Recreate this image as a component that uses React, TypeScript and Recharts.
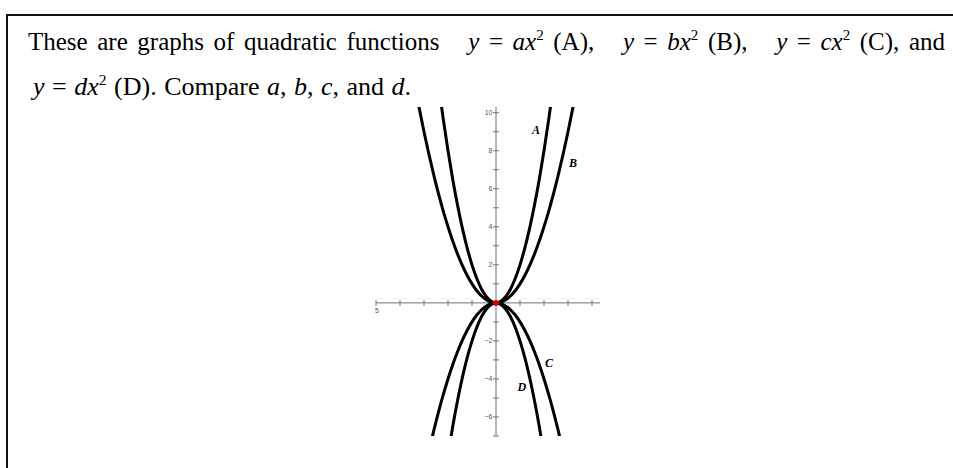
import React from 'react';
import { LineChart, Line, XAxis, YAxis, ReferenceLine, ReferenceDot } from 'recharts';

// sample x positions along the curves
const xValues = [-3.4, -3.2, -3, -2.8, -2.6, -2.4, -2.2, -2, -1.8, -1.6, -1.4, -1.2, -1, -0.8, -0.6, -0.4, -0.2, 0,
  0.2, 0.4, 0.6, 0.8, 1, 1.2, 1.4, 1.6, 1.8, 2, 2.2, 2.4, 2.6, 2.8, 3, 3.2, 3.4];
// curve A (y = ax^2, a ≈ 2)
const aValues = [23.12, 20.48, 18, 15.68, 13.52, 11.52, 9.68, 8, 6.48, 5.12, 3.92, 2.88, 2, 1.28, 0.72, 0.32, 0.08, 0,
  0.08, 0.32, 0.72, 1.28, 2, 2.88, 3.92, 5.12, 6.48, 8, 9.68, 11.52, 13.52, 15.68, 18, 20.48, 23.12];
// curve B (y = bx^2, b ≈ 1)
const bValues = [11.56, 10.24, 9, 7.84, 6.76, 5.76, 4.84, 4, 3.24, 2.56, 1.96, 1.44, 1, 0.64, 0.36, 0.16, 0.04, 0,
  0.04, 0.16, 0.36, 0.64, 1, 1.44, 1.96, 2.56, 3.24, 4, 4.84, 5.76, 6.76, 7.84, 9, 10.24, 11.56];
// curve C (y = cx^2, c ≈ -1)
const cValues = [-11.56, -10.24, -9, -7.84, -6.76, -5.76, -4.84, -4, -3.24, -2.56, -1.96, -1.44, -1, -0.64, -0.36, -0.16, -0.04, 0,
  -0.04, -0.16, -0.36, -0.64, -1, -1.44, -1.96, -2.56, -3.24, -4, -4.84, -5.76, -6.76, -7.84, -9, -10.24, -11.56];
// curve D (y = dx^2, d ≈ -2)
const dValues = [-23.12, -20.48, -18, -15.68, -13.52, -11.52, -9.68, -8, -6.48, -5.12, -3.92, -2.88, -2, -1.28, -0.72, -0.32, -0.08, 0,
  -0.08, -0.32, -0.72, -1.28, -2, -2.88, -3.92, -5.12, -6.48, -8, -9.68, -11.52, -13.52, -15.68, -18, -20.48, -23.12];

const curveNames = ['A', 'B', 'C', 'D'];
const labelXs = [1.67, 3.21, 2.21, 1.08];
const labelYs = [9.1, 7.37, -3.16, -4.42];

const xTicks = [-5, -4, -3, -2, -1, 1, 2, 3, 4];
const xTickLabels = ['5', '', '', '', '', '', '', '', ''];
const yTicks = [-7, -6, -5, -4, -3, -2, -1, 1, 2, 3, 4, 5, 6, 7, 8, 9, 10];
const yTickLabels = ['', '\u22126', '', '\u22124', '', '\u22122', '', '', '2', '', '4', '', '6', '', '8', '', '10'];

const xDomain = [-5, 4.333];
const yDomain = [-7, 10.3];

const data = xValues.map((x, i) => ({ x, A: aValues[i], B: bValues[i], C: cValues[i], D: dValues[i] }));

const AXIS = '#707070';
const serif = '"Liberation Serif", "Times New Roman", serif';

const Sup = ({ children }: { children: React.ReactNode }) => (
  <span style={{ fontSize: '0.6em', position: 'relative', top: '-0.65em', lineHeight: 0 }}>{children}</span>
);

export default function App() {
  return (
    <div style={{ position: 'absolute', left: 0, top: 0, width: 953, height: 468, background: '#fff', overflow: 'hidden' }}>
      <div style={{ position: 'absolute', left: 6, top: 14, width: 953, height: 468, borderTop: '2px solid #111', borderLeft: '2px solid #111', boxSizing: 'border-box' }} />
      <LineChart width={953} height={468} data={data} margin={{ top: 107, right: 353, bottom: 32, left: 376 }}
        style={{ position: 'absolute', left: 0, top: 0 }}>
        <XAxis type="number" dataKey="x" domain={xDomain} hide allowDataOverflow />
        <YAxis type="number" domain={yDomain} hide allowDataOverflow />
        <ReferenceLine y={0} stroke={AXIS} strokeWidth={1} />
        <ReferenceLine x={0} stroke={AXIS} strokeWidth={1} />
        {xTicks.map((t, i) => (
          <ReferenceDot key={'xt' + t} x={t} y={0} r={1}
            shape={(p: any) => (
              <g>
                <line x1={p.cx} x2={p.cx} y1={p.cy - 3} y2={p.cy + 3} stroke={AXIS} strokeWidth={1} />
                {xTickLabels[i] ? (
                  <text x={p.cx + 1} y={p.cy + 10} fontSize={7} fill="#555" textAnchor="middle" fontFamily="Liberation Sans, Arial">{xTickLabels[i]}</text>
                ) : null}
              </g>
            )} />
        ))}
        {yTicks.map((t, i) => (
          <ReferenceDot key={'yt' + t} x={0} y={t} r={1}
            shape={(p: any) => (
              <g>
                <line x1={p.cx - 3} x2={p.cx + 3} y1={p.cy} y2={p.cy} stroke={AXIS} strokeWidth={1} />
                {yTickLabels[i] ? (
                  <text x={p.cx - 3.5} y={p.cy + 2.5} fontSize={7} fill="#555" textAnchor="end" fontFamily="Liberation Sans, Arial">{yTickLabels[i]}</text>
                ) : null}
              </g>
            )} />
        ))}
        <Line type="monotone" dataKey="A" stroke="#000" strokeWidth={3} dot={false} isAnimationActive={false} />
        <Line type="monotone" dataKey="B" stroke="#000" strokeWidth={3} dot={false} isAnimationActive={false} />
        <Line type="monotone" dataKey="C" stroke="#000" strokeWidth={3} dot={false} isAnimationActive={false} />
        <Line type="monotone" dataKey="D" stroke="#000" strokeWidth={3} dot={false} isAnimationActive={false} />
        {curveNames.map((n, i) => (
          <ReferenceDot key={'lbl' + n} x={labelXs[i]} y={labelYs[i]} r={1}
            shape={(p: any) => (
              <text x={p.cx} y={p.cy + 4} fontSize={12} fontWeight="bold" fontStyle="italic" textAnchor="middle" fontFamily={serif} fill="#000">{n}</text>
            )} />
        ))}
        <ReferenceDot x={0} y={0} r={3} fill="#e00000" stroke="none" />
      </LineChart>
      <div style={{ position: 'absolute', left: 28, top: 29, width: 917, fontFamily: serif, fontSize: 25, lineHeight: '25px', color: '#000', textAlign: 'justify', textAlignLast: 'justify' as any, whiteSpace: 'nowrap' }}>
        These are graphs of quadratic functions {'\u00a0'} <i>y</i> = <i>ax</i><Sup>2</Sup> (A), {'\u00a0'} <i>y</i> = <i>bx</i><Sup>2</Sup> (B), {'\u00a0'} <i>y</i> = <i>cx</i><Sup>2</Sup> (C), and
      </div>
      <div style={{ position: 'absolute', left: 33, top: 74, fontFamily: serif, fontSize: 26, lineHeight: '26px', wordSpacing: 1, color: '#000', whiteSpace: 'nowrap' }}>
        <i>y</i> = <i>dx</i><Sup>2</Sup> (D). Compare <i>a</i>, <i>b</i>, <i>c</i>, and <i>d</i>.
      </div>
    </div>
  );
}
